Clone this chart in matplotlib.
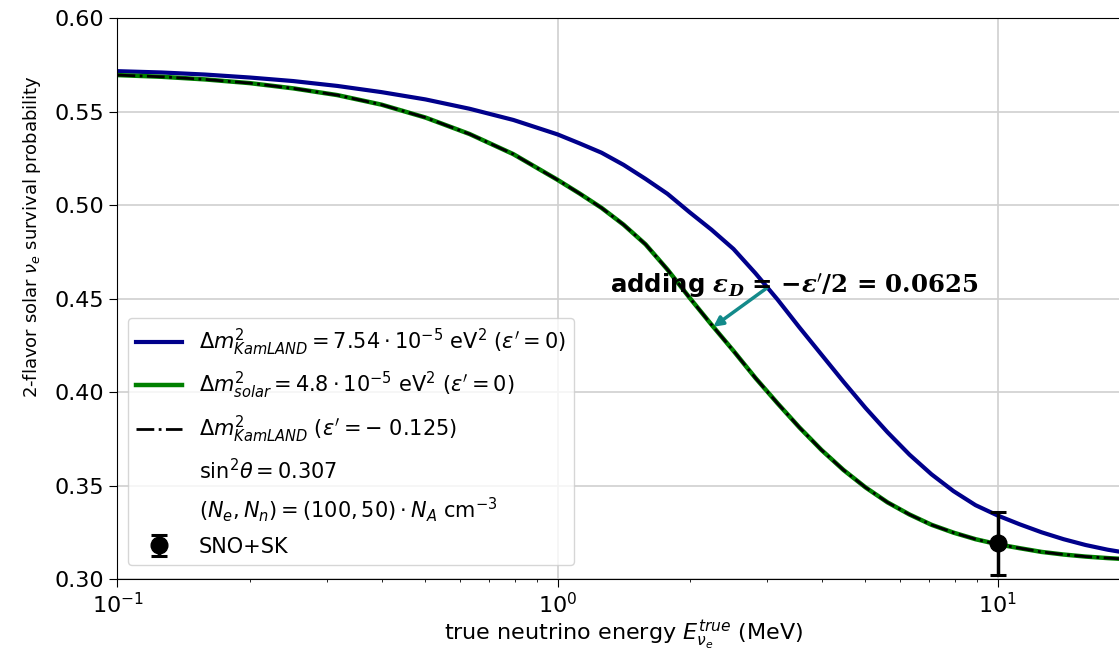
import numpy as np
import matplotlib.pyplot as plt

# * ----- Data -----------------------------------------------------------------
energy = [0.1, 0.126, 0.158, 0.2, 0.251, 0.316, 0.398, 0.501, 0.631, 0.794,
          1.0, 1.122, 1.259, 1.413, 1.585, 1.778, 1.995, 2.239, 2.512, 2.818,
          3.162, 3.548, 3.981, 4.467, 5.012, 5.623, 6.31, 7.079, 7.943, 8.913,
          10.0, 11.22, 12.59, 14.13, 15.85, 17.78, 20.0]

# KamLAND dm^2, eps' = 0  (blue)
p_kamland = [0.5716, 0.5709, 0.5698, 0.5682, 0.5663, 0.5637, 0.5604, 0.5565, 0.5515, 0.5455,
             0.5378, 0.5330, 0.5280, 0.5215, 0.5140, 0.5060, 0.4962, 0.4868, 0.4765, 0.4635,
             0.4495, 0.4345, 0.4200, 0.4055, 0.3915, 0.3785, 0.3665, 0.3560, 0.3470, 0.3395,
             0.3340, 0.3293, 0.3250, 0.3213, 0.3182, 0.3157, 0.3137]

# solar dm^2, eps' = 0  (green)
p_solar = [0.5695, 0.5686, 0.5672, 0.5652, 0.5624, 0.5588, 0.5537, 0.5468, 0.5380, 0.5272,
           0.5135, 0.5062, 0.4985, 0.4895, 0.4790, 0.4655, 0.4505, 0.4360, 0.4220, 0.4075,
           0.3940, 0.3810, 0.3690, 0.3583, 0.3490, 0.3410, 0.3345, 0.3290, 0.3248, 0.3213,
           0.3186, 0.3165, 0.3145, 0.3131, 0.3120, 0.3112, 0.3105]

# KamLAND dm^2 with eps' = -0.125 (black dash-dot, sits right on the green one)
p_kamland_nsi = [0.5695, 0.5686, 0.5672, 0.5652, 0.5624, 0.5588, 0.5537, 0.5468, 0.5380, 0.5272,
                 0.5135, 0.5062, 0.4985, 0.4895, 0.4790, 0.4655, 0.4505, 0.4360, 0.4220, 0.4075,
                 0.3940, 0.3810, 0.3690, 0.3583, 0.3490, 0.3410, 0.3345, 0.3290, 0.3248, 0.3213,
                 0.3186, 0.3165, 0.3145, 0.3131, 0.3120, 0.3112, 0.3105]

# SNO+SK point
sno_E = [10.0]
sno_P = [0.319]
sno_err = [0.017]

# annotation anchors (data coords)
text_xy = (1.316, 0.4532)
arrow_tail = (2.989, 0.4556)
arrow_head = (2.26, 0.4349)


# * ----- Plot ----------------------------------------------------------------
fig = plt.figure(figsize=(11.19, 6.5), dpi=100)
ax = fig.add_axes([0.105, 0.1092, 0.9048, 0.863])

ax.plot(energy, p_kamland, color='darkblue', lw=3,
        label=r'$\Delta m^2_{KamLAND} = 7.54\cdot10^{-5}$ eV$^2$ ($\varepsilon^\prime=0$)')
ax.plot(energy, p_solar, color='green', lw=3.2,
        label=r'$\Delta m^2_{solar} = 4.8\cdot10^{-5}$ eV$^2$ ($\varepsilon^\prime=0$)')
ax.plot(energy, p_kamland_nsi, color='black', lw=2, ls='-.',
        label=r'$\Delta m^2_{KamLAND}$ ($\varepsilon^\prime=-\ 0.125$)')
ax.plot([], [], ' ', label=r'$\mathrm{sin}^2\theta = 0.307$')
ax.plot([], [], ' ', label=r'$(N_e, N_n) = (100, 50)\cdot N_A$ cm$^{-3}$')
ax.errorbar(sno_E, sno_P, yerr=sno_err, fmt='o', color='black', ms=12,
            elinewidth=2.5, capsize=5.5, capthick=2.2, label='SNO+SK', zorder=5)

ax.annotate('', xy=arrow_head, xytext=arrow_tail,
            arrowprops=dict(arrowstyle='-|>,head_length=0.55,head_width=0.28',
                            color='#138a8a', lw=2.5, shrinkA=0, shrinkB=0))
ax.text(text_xy[0], text_xy[1],
        r"adding $\mathbfit{\varepsilon_D}\,\mathbf{=}\,\mathbf{-}\mathbfit{\varepsilon}\mathbf{'/2}\,\mathbf{=}\,\mathbf{0.0625}$",
        fontsize=17.6, fontweight='bold', va='baseline', math_fontfamily='dejavuserif', zorder=6)

ax.set_xscale('log')
ax.set_xlim(0.1, 20)
ax.set_ylim(0.30, 0.60)
ax.set_yticks(np.arange(0.30, 0.601, 0.05))
ax.yaxis.set_major_formatter(plt.FormatStrFormatter('%.2f'))
ax.tick_params(axis='both', which='major', labelsize=16, length=6)
ax.grid(True, which='major', color='#d0d0d0', lw=1.2)

ax.set_xlabel(r'true neutrino energy $E^{true}_{\nu_e}$ (MeV)', fontsize=16, labelpad=1)
ax.set_ylabel(r'2-flavor solar $\nu_e$ survival probability', fontsize=13)
ax.yaxis.set_label_coords(-0.074, 0.61)

ax.legend(loc='lower left', bbox_to_anchor=(0.0104, 0.025), borderaxespad=0,
          fontsize=15, handlelength=2.2, labelspacing=0.6, framealpha=0.8)

fig.savefig('out.png', dpi=100)
